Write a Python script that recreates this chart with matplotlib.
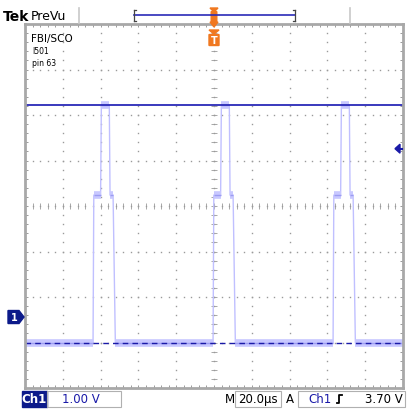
import matplotlib
matplotlib.use("Agg")
import matplotlib.pyplot as plt
from matplotlib.patches import Rectangle, Polygon, FancyBboxPatch
import numpy as np

# Scope settings
volts_per_div = 1.00
time_per_div_us = 20.0
trigger_level_v = 3.70
ground_offset_div = -2.44      # channel 1 ground marker position (divisions from centre)
cursor_level_v = 4.66          # horizontal blue line

# Signal levels (V)
low_level_v = -0.57
plateau_level_v = 2.68
spike_level_v = 4.66

# Pulse start times (µs) and the shape of one burst
pulse_start_us = [-64.0, -0.5, 63.0]
shape_dt_us = [0.0, 0.4, 4.0, 4.4, 8.6, 9.0, 10.6, 11.8]
shape_level = ["low", "plateau", "plateau", "spike", "spike", "plateau", "plateau", "low"]

levels = {"low": low_level_v, "plateau": plateau_level_v, "spike": spike_level_v}

# build the trace
t_trace = [-100.0]
v_trace = [low_level_v]
for t0 in pulse_start_us:
    for dt, lv in zip(shape_dt_us, shape_level):
        t_trace.append(t0 + dt)
        v_trace.append(levels[lv])
t_trace.append(100.0)
v_trace.append(low_level_v)
t_trace = np.array(t_trace)
v_trace = np.array(v_trace)

W, H = 407, 410
fig = plt.figure(figsize=(W / 100, H / 100), dpi=100)
fig.patch.set_facecolor("white")

# graticule area in pixels
gx0, gx1, gy0, gy1 = 25, 403, 25, 389
ax = fig.add_axes([gx0 / W, 1 - gy1 / H, (gx1 - gx0) / W, (gy1 - gy0) / H])
ymin = (-4 - ground_offset_div) * volts_per_div
ymax = (4 - ground_offset_div) * volts_per_div
ax.set_xlim(-5 * time_per_div_us, 5 * time_per_div_us)
ax.set_ylim(ymin, ymax)
ax.set_facecolor("white")

grid_c = "#9a9a9a"
# dotted division lines
xs_major = np.arange(-4, 5) * time_per_div_us
ys_major = ymin + np.arange(1, 8) * volts_per_div
ys_minor = ymin + np.arange(0, 41) * volts_per_div / 5
xs_minor = -100 + np.arange(0, 51) * time_per_div_us / 5
for x in xs_major:
    ax.plot(np.full_like(ys_minor, x), ys_minor, ls="none", marker="s", ms=1.0,
            color=grid_c, mew=0)
for y in ys_major:
    ax.plot(xs_minor, np.full_like(xs_minor, y), ls="none", marker="s", ms=1.0,
            color=grid_c, mew=0)
# centre cross ticks
ycen = ymin + 4 * volts_per_div
ax.plot(np.zeros_like(ys_minor), ys_minor, ls="none", marker="_", ms=4, mew=0.6, color=grid_c)
ax.plot(xs_minor, np.full_like(xs_minor, ycen), ls="none", marker="|", ms=4, mew=0.6, color=grid_c)

# border ticks
ax.set_xticks(xs_minor, minor=True)
ax.set_yticks(ys_minor, minor=True)
ax.set_xticks([])
ax.set_yticks([])
ax.tick_params(which="minor", direction="in", length=2.5, width=0.7, color=grid_c,
               top=True, right=True, labelbottom=False, labelleft=False)
for s in ax.spines.values():
    s.set_color("#a8a8a8")
    s.set_linewidth(2.0)

# signal trace: faint edges, brighter banded levels
ax.plot(t_trace, v_trace, color="#c0c0ff", lw=1.0)
flat = np.isclose(v_trace[:-1], v_trace[1:])
for i in np.where(flat)[0]:
    seg_t = t_trace[i:i + 2]
    seg_v = v_trace[i:i + 2]
    ax.plot(seg_t, seg_v, color="#c8c8ff", lw=5.5, solid_capstyle="butt")
    ax.plot(seg_t, seg_v, color="#9c9cf2", lw=1.0, solid_capstyle="butt")

# reference dashed line at the low level and cursor line
ax.axhline(low_level_v, color="#1a1aa8", lw=1.0, ls=(0, (4, 3)))
ax.axhline(cursor_level_v, color="#2a2ab8", lw=1.3)

# overlay in pixel coordinates for the screen decorations
ov = fig.add_axes([0, 0, 1, 1], facecolor="none")
ov.set_xlim(0, W)
ov.set_ylim(H, 0)
ov.axis("off")

font = "DejaVu Sans"

ov.text(3, 17, "Tek", fontsize=10, fontweight="bold", family=font, va="center", ha="left")
ov.text(31, 16, "PreVu", fontsize=9, family=font, va="center", ha="left")
ov.plot([79, 79], [9, 24], color="#c8c8c8", lw=1.2)
ov.plot([350, 350], [9, 24], color="#c8c8c8", lw=1.2)

# record bar
ov.plot([134, 295], [16, 16], color="#2a2ab8", lw=1.2)
for bx, d in [(134, 2), (295, -2)]:
    ov.plot([bx, bx], [11, 22], color="#444444", lw=0.9)
    ov.plot([bx, bx + d], [11, 11], color="#444444", lw=0.9)
    ov.plot([bx, bx + d], [22, 22], color="#444444", lw=0.9)
ov.add_patch(Polygon([[210, 9], [218, 9], [214, 13]], color="#f07820"))
ov.add_patch(FancyBboxPatch((211.5, 13), 5, 9, boxstyle="round,pad=0.3", color="#f07820"))
ov.add_patch(Polygon([[210, 23], [218, 23], [214, 28]], color="#f07820"))

# trigger position marker inside graticule
ov.add_patch(Polygon([[209, 31], [219, 31], [214, 35]], color="#f07820"))
ov.add_patch(FancyBboxPatch((209.5, 36), 9, 10, boxstyle="round,pad=0.5", color="#f07820"))
ov.text(214, 41.5, "T", color="white", fontsize=7, fontweight="bold", ha="center", va="center",
        family=font)

# channel annotation
ov.text(31, 39, "FBI/SCO", fontsize=7.5, family=font, va="center", ha="left")
ov.text(32, 52, "I501", fontsize=5.5, family=font, va="center", ha="left")
ov.text(32, 64, "pin 63", fontsize=5.5, family=font, va="center", ha="left")

# ground marker
gy = gy0 + (4 - ground_offset_div) / 8 * (gy1 - gy0)
ov.add_patch(Polygon([[8, gy - 6.5], [19, gy - 6.5], [24, gy], [19, gy + 6.5], [8, gy + 6.5]],
                     color="#0c1a8a"))
ov.text(14, gy, "1", color="white", fontsize=7, fontweight="bold", ha="center", va="center",
        family=font)

# trigger level arrow at the right
ty = gy0 + (4 - (ground_offset_div + trigger_level_v / volts_per_div)) / 8 * (gy1 - gy0)
ov.add_patch(Polygon([[395, ty], [400, ty - 4.5], [400, ty + 4.5]], color="#1a1aa8"))
ov.plot([399, 402], [ty, ty], color="#1a1aa8", lw=1.5)

# bottom status line
ov.add_patch(Rectangle((22, 392), 25, 16, color="#0c1a8a"))
ov.text(34.5, 400, "Ch1", color="white", fontsize=8.5, fontweight="bold", ha="center", va="center",
        family=font)
ov.add_patch(Rectangle((47, 392), 74, 16, fill=False, ec="#b0b0b0", lw=0.8))
ov.text(62, 400, f"{volts_per_div:.2f} V", color="#1a1aa8", fontsize=8.5, ha="left", va="center",
        family=font)
ov.text(225, 400, "M", fontsize=8.5, ha="left", va="center", family=font)
ov.add_patch(Rectangle((235, 392), 46, 16, fill=False, ec="#b0b0b0", lw=0.8))
ov.text(258, 400, f"{time_per_div_us:.1f}µs", fontsize=8.5, ha="center", va="center", family=font)
ov.text(286, 400, "A", fontsize=8.5, ha="left", va="center", family=font)
ov.add_patch(Rectangle((298, 392), 107, 16, fill=False, ec="#b0b0b0", lw=0.8))
ov.text(308, 400, "Ch1", color="#1a1aa8", fontsize=8.5, ha="left", va="center", family=font)
ov.plot([337, 339, 339, 342], [404, 404, 396, 396], color="black", lw=1.3)
ov.text(403, 400, f"{trigger_level_v:.2f} V", fontsize=8.5, ha="right", va="center", family=font)

fig.savefig("out.png", dpi=100)
